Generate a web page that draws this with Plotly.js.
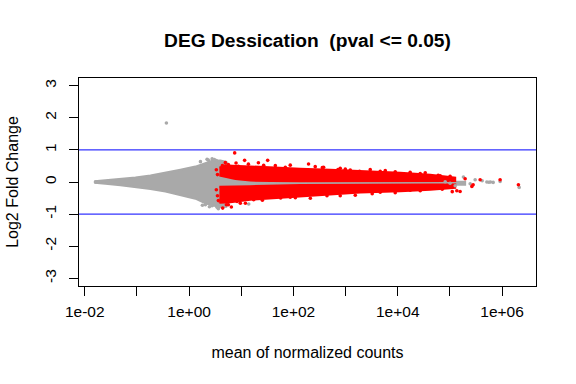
<!DOCTYPE html>
<html>
<head>
<meta charset="utf-8">
<script src="https://cdn.plot.ly/plotly-3.0.1.min.js"></script>
<style>html,body{margin:0;padding:0;background:#fff}#chart{width:576px;height:384px}</style>
</head>
<body>
<div id="chart"></div>
<script>
// Dense non-significant (grey) cloud: outline
const grayCloudMean = [0.0153,0.0249,0.0483,0.0936,0.1815,0.352,0.681,1.32,2.05,2.79,3.98,5.19,
  6.75,9.6,23.2,135,11170,196000,
  196000,11170,135,23.2,9.6,6.75,5.19,3.98,2.79,2.05,1.32,0.681,0.352,0.1815,0.0936,0.0483,0.0249,0.0153];
const grayCloudLfc = [0.025,0.05,0.09,0.14,0.20,0.28,0.38,0.48,0.59,0.66,0.67,0.63,
  0.20,0.056,0.025,0.016,0.01,0.01,
  -0.085,-0.078,-0.09,-0.115,-0.18,-0.40,-0.77,-0.79,-0.725,-0.66,-0.52,-0.41,-0.30,-0.22,-0.155,-0.10,-0.053,-0.022];

// Dense significant (red) clouds above and below zero
const redUpMean = [3.81,4.95,6.75,14.9,36.1,135,509,1915,11170,42000,81300,126500,
  126500,42000,11170,1915,135,36.1,14.9,7.71,4.35,3.81];
const redUpLfc = [0.447,0.52,0.51,0.48,0.447,0.416,0.384,0.353,0.29,0.228,0.166,0.134,
  0.03,0.025,0.025,0.025,0.022,0.03,0.045,0.09,0.16,0.2];
const redLoMean = [3.81,7.71,14.9,135,1915,11170,42000,126500,
  126500,42000,11170,1915,509,135,36.1,14.9,6.18,3.81];
const redLoLfc = [-0.15,-0.15,-0.13,-0.095,-0.08,-0.075,-0.075,-0.08,
  -0.18,-0.24,-0.29,-0.33,-0.39,-0.43,-0.49,-0.55,-0.63,-0.65];

// Individual red points outside the dense clouds
const redPtsMean = [7.48,7.94,11.6,32.1,26.9,4.95,4.35,195,379,715,1855,4620,65200,380000,918000,2060000,
  4.41,6.46,8.31,440,157000,136000,264000,279000,17.3,56.9,1230,27000,101000,17300,4620,87,12,5.66,
  21.3,87,262,790,8950,196000,
  5.66,8.81,13.7,45,70,358,988,2970,5770,17300,33700,59700,
  5.19,9.6,25.4,109,211,790,1535,3240,8950,27000,71300,111000,
  3.33,3.5,3.33,3.5,3.64];
const redPtsLfc = [0.906,0.594,0.675,0.675,0.519,0.603,0.509,0.5625,0.456,0.384,0.331,0.331,0.197,0.072,0.072,-0.084,
  -0.8125,-0.78,-0.606,-0.428,-0.294,-0.272,-0.1375,-0.084,-0.55,-0.5,0.37,0.26,0.18,-0.256,-0.32,-0.475,-0.66,-0.71,
  0.60,0.525,0.478,0.43,0.32,0.10,
  0.54,0.49,0.556,0.51,0.46,0.447,0.40,0.384,0.353,0.306,0.29,0.2125,
  -0.71,-0.66,-0.57,-0.49,-0.506,-0.428,-0.4125,-0.365,-0.334,-0.27,-0.225,-0.30,
  0.38,0.23,-0.24,-0.43,-0.58];

// Individual grey points
const grayPtsMean = [0.367,13.9,2.21,2.76,3.33,2.76,3.44,2.05,182000,305000,512000,676000,918000,101000,126500,
  81300,2130000,245000,416000,600000,560000,0.016,1.65,2.34,3.05,1.80,2.45,3.64];
const grayPtsLfc = [1.84,-0.6875,0.71,0.72,0.666,-0.74,-0.79,-0.71,0.156,0.072,0,-0.0125,0.016,-0.0375,-0.116,
  0.01,-0.169,-0.053,0.04,0.0,-0.01,0.0,0.634,0.68,0.70,-0.725,-0.77,-0.834];

const xTickVals = [0.01,0.1,1,10,100,1000,10000,100000,1000000];
const xTickText = ['1e-02','','1e+00','','1e+02','','1e+04','','1e+06'];
const yTickVals = [-3,-2,-1,0,1,2,3];
const yTickText = ['-3','-2','-1','0','1','2','3'];
const refLines = [1,-1];

const GRAY = '#A9A9A9', RED = '#FF0000';
const FONT = 'Liberation Sans, Arial, Helvetica, sans-serif';

const traces = [
  {x: grayCloudMean, y: grayCloudLfc, type: 'scatter', mode: 'lines', fill: 'toself',
   fillcolor: GRAY, line: {color: GRAY, width: 2}, hoverinfo: 'skip', showlegend: false},
  {x: redUpMean, y: redUpLfc, type: 'scatter', mode: 'lines', fill: 'toself',
   fillcolor: RED, line: {color: RED, width: 2}, hoverinfo: 'skip', showlegend: false},
  {x: redLoMean, y: redLoLfc, type: 'scatter', mode: 'lines', fill: 'toself',
   fillcolor: RED, line: {color: RED, width: 2}, hoverinfo: 'skip', showlegend: false},
  {x: grayPtsMean, y: grayPtsLfc, type: 'scatter', mode: 'markers',
   marker: {color: GRAY, size: 3.6, line: {width: 0}}, showlegend: false},
  {x: redPtsMean, y: redPtsLfc, type: 'scatter', mode: 'markers',
   marker: {color: RED, size: 3.6, line: {width: 0}}, showlegend: false}
];

const layout = {
  width: 576, height: 384,
  margin: {l: 78.5, r: 40.3, t: 78.3, b: 98.3, pad: 0},
  paper_bgcolor: '#fff', plot_bgcolor: '#fff',
  font: {family: FONT, size: 16, color: '#000'},
  title: {text: 'DEG Dessication  (pval &lt;= 0.05)', font: {family: FONT, size: 19.2, weight: 'bold', color: '#000'},
          xref: 'paper', x: 0.5, xanchor: 'center', yref: 'container', y: 1 - 40/384, yanchor: 'middle'},
  xaxis: {type: 'log', range: [-2.111, 6.651], tickmode: 'array', tickvals: xTickVals, ticktext: xTickText,
          ticks: 'outside', ticklen: 9, tickwidth: 1, tickcolor: '#000', showgrid: false, zeroline: false,
          showline: true, mirror: true, linecolor: '#000', linewidth: 1, ticklabelstandoff: 2,
          tickfont: {family: FONT, size: 15.5, color: '#000'},
          title: {text: 'mean of normalized counts', font: {family: FONT, size: 16, color: '#000'}, standoff: 28}},
  yaxis: {range: [-3.24, 3.24], tickmode: 'array', tickvals: yTickVals, ticktext: yTickText,
          ticks: 'outside', ticklen: 9, tickwidth: 1, tickcolor: '#000', showgrid: false, zeroline: false,
          showline: true, mirror: true, linecolor: '#000', linewidth: 1, tickangle: -90, ticklabelstandoff: 7,
          tickfont: {family: FONT, size: 15.5, color: '#000'},
          title: {text: 'Log2 Fold Change', font: {family: FONT, size: 16, color: '#000'}, standoff: 19}},
  shapes: refLines.map(v => ({type: 'line', xref: 'paper', x0: 0, x1: 1, yref: 'y', y0: v, y1: v,
          line: {color: '#0000FF', width: 1}})),
  showlegend: false
};

Plotly.newPlot('chart', traces, layout, {staticPlot: true, displayModeBar: false});
</script>
</body>
</html>
